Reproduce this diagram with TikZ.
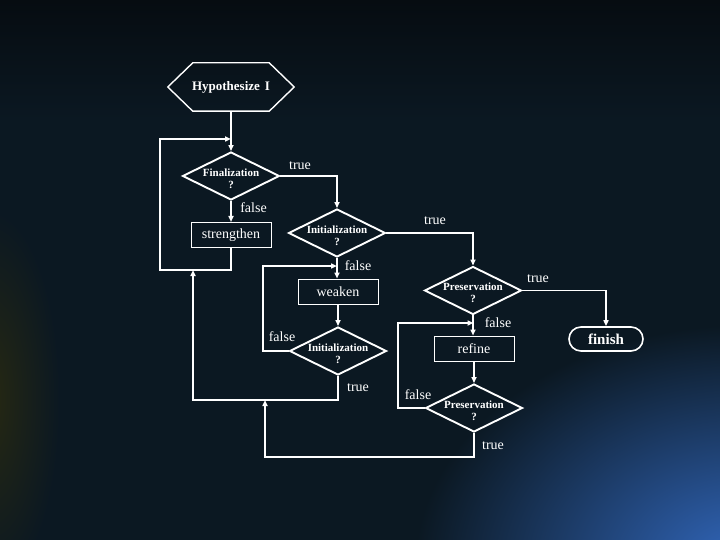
\documentclass[tikz,border=0pt]{standalone}
\usepackage{fontspec}
\setmainfont{Liberation Serif}
\usetikzlibrary{shapes.geometric,arrows.meta}
\definecolor{bgbase}{RGB}{11,24,34}
\definecolor{bgtop}{RGB}{6,12,17}
\definecolor{bgblue}{RGB}{50,104,190}
\definecolor{bgolive}{RGB}{38,40,18}
\begin{document}
\begin{tikzpicture}[x=1pt,y=-1pt,
  every node/.style={text=white, inner sep=0pt},
  dia/.style={diamond, draw=white, line width=1.9pt, minimum width=97pt, minimum height=48pt, inner sep=0pt},
  dtext/.style={font=\fontsize{11}{12}\selectfont\bfseries, align=center, text=white, yshift=-2.5pt},
  boxnode/.style={rectangle, draw=white, line width=1pt, minimum width=80pt, minimum height=25pt, font=\fontsize{14}{16}\selectfont},
  lbl/.style={font=\fontsize{14}{16}\selectfont, text=white},
  endnode/.style={rectangle, rounded corners=12pt, draw=white, line width=1.6pt, minimum width=74pt, minimum height=24pt, font=\fontsize{15}{17}\selectfont\bfseries},
  conn/.style={draw=white, line width=1.6pt},
  arr/.style={conn, -{Triangle[length=6pt,width=5pt]}},
]
% background
\useasboundingbox (0,0) rectangle (720,540);
\fill[bgbase] (0,0) rectangle (720,540);
\shade[top color=bgtop, bottom color=bgbase] (0,0) rectangle (720,120);
\begin{scope}
  \clip (0,0) rectangle (720,540);
  \shade[inner color=bgblue, outer color=bgbase] (745,565) ellipse (330pt and 240pt);
  \shade[inner color=bgolive, outer color=bgbase] (-10,400) ellipse (70pt and 190pt);
\end{scope}

% nodes
\node (hyp) at (231,87) [minimum width=126pt, minimum height=48pt, font=\fontsize{13}{15}\selectfont\bfseries] {Hypothesize\hspace{5pt}I};
\draw[white, line width=1.4pt] ([xshift=25pt]hyp.north west) -- ([xshift=-25pt]hyp.north east) -- (hyp.east) -- ([xshift=-25pt]hyp.south east) -- ([xshift=25pt]hyp.south west) -- (hyp.west) -- cycle;

\node[dia, label={[dtext]center:{Finalization\\?}}] (fin) at (231,176) {};
\node[boxnode] (strg) at (231,235) {strengthen};
\node[dia, label={[dtext]center:{Initialization\\?}}] (init1) at (337,233) {};
\node[boxnode] (weak) at (338,291.5) {weaken};
\node[dia, label={[dtext]center:{Initialization\\?}}] (init2) at (338,351) {};
\node[dia, label={[dtext]center:{Preservation\\?}}] (pres1) at (473,290.5) {};
\node[boxnode] (ref) at (474,348.5) {refine};
\node[dia, label={[dtext]center:{Preservation\\?}}] (pres2) at (474,408) {};
\node[endnode] (finish) at (606,339) {finish};

% helper coordinates
\coordinate (j1) at (231,139);
\coordinate (k1) at (160,270);
\coordinate (j2) at (337,266);
\coordinate (k2) at (263,266);
\coordinate (k3) at (193,400);
\coordinate (j3) at (193,270);
\coordinate (k4) at (398,323);
\coordinate (j4) at (473.5,323);
\coordinate (k5) at (265,457);
\coordinate (j5) at (265,400);

% connectors
\draw[arr] (hyp.south) -- (fin.north);
\draw[arr] (fin.east) -| (init1.north);
\draw[arr] (fin.south) -- (strg.north);
\draw[arr] (strg.south) |- (k1) |- (j1);
\draw[arr] (init1.east) -| (pres1.north);
\draw[arr] (init1.south) -- (weak.north -| init1.south);
\draw[arr] (weak.south -| init2.north) -- (init2.north);
\draw[arr] (init2.west) -| (k2) -- (j2);
\draw[arr] (init2.south) |- (k3) -- (j3);
\draw[arr] (pres1.east) -| (finish.north);
\draw[arr] (pres1.south) -- (ref.north -| pres1.south);
\draw[arr] (ref.south -| pres2.north) -- (pres2.north);
\draw[arr] (pres2.west) -| (k4) -- (j4);
\draw[arr] (pres2.south) |- (k5) -- (j5);

% labels
\node[lbl] (t1) at (300,166) {true};
\node[lbl] (f1) at (253.5,208) {false};
\node[lbl] (t2) at (435,221) {true};
\node[lbl] (f2) at (358,266) {false};
\node[lbl] (f3) at (282,337) {false};
\node[lbl] (t3) at (358,388) {true};
\node[lbl] (t4) at (538,279) {true};
\node[lbl] (f4) at (498,323) {false};
\node[lbl] (f5) at (418,395) {false};
\node[lbl] (t5) at (493,446) {true};
\end{tikzpicture}
\end{document}
